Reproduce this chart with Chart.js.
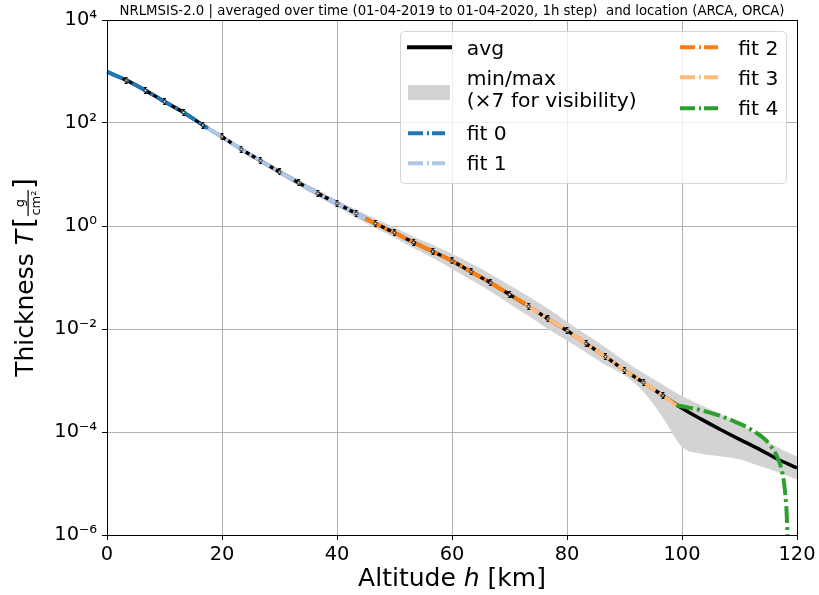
<!DOCTYPE html>
<html>
<head>
<meta charset="utf-8">
<script src="https://cdn.jsdelivr.net/npm/chart.js@4.4.1/dist/chart.umd.min.js"></script>
<style>
  body { margin: 0; background: #fff; }
  #wrap { width: 819px; height: 595px; }
</style>
</head>
<body>
<div id="wrap"><canvas id="thickness" width="819" height="595"></canvas></div>
<script>
// altitude grid (km) for the averaged profile and its min/max envelope
const altitude = [0, 3.33, 6.67, 10, 13.33, 16.67, 20, 23.33, 26.67, 30, 33.33, 36.67, 40, 43.33, 46.67, 50, 53.33, 56.67, 60, 63.33, 66.67, 70, 73.33, 76.67, 80, 83.33, 86.67, 90, 93.33, 96.67, 100, 103.33, 106.67, 110, 113.33, 116.67, 120];
const avgT = [9.8e2, 6.8e2, 4.3e2, 2.6e2, 1.6e2, 9.1e1, 5.4e1, 3.1e1, 1.86e1, 1.12e1, 6.9, 4.3, 2.75, 1.74, 1.12, 0.74, 0.48, 0.32, 0.21, 0.129, 0.079, 0.047, 0.0275, 0.0158, 9.3e-3, 5.2e-3, 2.9e-3, 1.58e-3, 9.1e-4, 5.1e-4, 2.9e-4, 1.78e-4, 1.12e-4, 7.2e-5, 4.7e-5, 2.95e-5, 2.0e-5];
const maxT = [1.02e3, 7.1e2, 4.5e2, 2.8e2, 1.7e2, 1.0e2, 5.9e1, 3.4e1, 2.1e1, 1.26e1, 7.9, 5.0, 3.2, 2.1, 1.38, 0.93, 0.62, 0.43, 0.29, 0.186, 0.117, 0.071, 0.043, 0.025, 0.0138, 7.8e-3, 4.4e-3, 2.4e-3, 1.38e-3, 8.3e-4, 5.0e-4, 3.3e-4, 2.24e-4, 1.41e-4, 8.3e-5, 5.0e-5, 3.3e-5];
const minT = [9.3e2, 6.5e2, 4.1e2, 2.45e2, 1.48e2, 8.3e1, 4.9e1, 2.8e1, 1.66e1, 1.0e1, 6.0, 3.7, 2.34, 1.45, 0.91, 0.59, 0.37, 0.24, 0.148, 0.089, 0.054, 0.031, 0.0178, 0.0100, 6.0e-3, 3.5e-3, 2.0e-3, 1.26e-3, 6.0e-4, 1.9e-4, 5.2e-5, 3.8e-5, 3.4e-5, 2.95e-5, 2.2e-5, 1.66e-5, 1.2e-5];

// piecewise fits
const fit0Alt = [0, 3.33, 6.67, 10, 13.33, 17.5];
const fit0T = [9.8e2, 6.8e2, 4.3e2, 2.6e2, 1.6e2, 7.9e1];
const fit1Alt = [17.5, 20, 23.33, 26.67, 30, 33.33, 36.67, 40, 43.33, 45];
const fit1T = [7.9e1, 5.4e1, 3.1e1, 1.86e1, 1.12e1, 6.9, 4.3, 2.75, 1.74, 1.40];
const fit2Alt = [45, 46.67, 50, 53.33, 56.67, 60, 63.33, 66.67, 70, 72.7];
const fit2T = [1.40, 1.12, 0.74, 0.48, 0.32, 0.21, 0.129, 0.079, 0.047, 0.031];
const fit3Alt = [72.7, 73.33, 76.67, 80, 83.33, 86.67, 90, 93.33, 96.67, 99];
const fit3T = [0.031, 0.0275, 0.0158, 9.3e-3, 5.2e-3, 2.9e-3, 1.58e-3, 9.1e-4, 5.1e-4, 3.3e-4];
const fit4Alt = [99, 101, 103, 105, 107, 109, 111, 113, 114.5, 115.5, 116.5, 117.2, 117.7, 118.0, 118.25, 118.4];
const fit4T = [3.3e-4, 3.0e-4, 2.7e-4, 2.35e-4, 2.0e-4, 1.62e-4, 1.29e-4, 9.5e-5, 7.1e-5, 5.2e-5, 3.4e-5, 2.1e-5, 1.12e-5, 5.6e-6, 2.0e-6, 5.0e-7];

const xTicks = [0, 20, 40, 60, 80, 100, 120];
const yTicks = [1e-6, 1e-4, 1e-2, 1e0, 1e2, 1e4];

const titleText = "NRLMSIS-2.0 | averaged over time (01-04-2019 to 01-04-2020, 1h step)  and location (ARCA, ORCA)";
const FONT = '"DejaVu Sans", sans-serif';
const fitColors = ["#1f77b4", "#aec7e8", "#ff7f0e", "#ffbb78", "#2ca02c"];
const fitDash = [17, 4, 3, 4];

const pts = (xs, ys) => xs.map((x, i) => ({ x: x, y: ys[i] }));

const SUP = { "-": "\u207B", "0": "\u2070", "1": "\u00B9", "2": "\u00B2", "3": "\u00B3", "4": "\u2074", "5": "\u2075", "6": "\u2076", "7": "\u2077", "8": "\u2078", "9": "\u2079" };
function powLabel(v) {
  const e = String(Math.round(Math.log10(v)));
  return "10" + e.split("").map(c => SUP[c]).join("");
}

// tiny open circle with error-bar caps
function makeMarker() {
  const c = document.createElement("canvas");
  c.width = 5; c.height = 7;
  const g = c.getContext("2d");
  g.strokeStyle = "#000"; g.lineWidth = 1;
  g.beginPath();
  g.moveTo(2.5, 0.5); g.lineTo(2.5, 6.5);
  g.moveTo(1, 0.5); g.lineTo(4, 0.5);
  g.moveTo(1, 6.5); g.lineTo(4, 6.5);
  g.stroke();
  g.beginPath(); g.arc(2.5, 3.5, 1.5, 0, 2 * Math.PI);
  g.fillStyle = "#fff"; g.fill(); g.stroke();
  return c;
}

function fitSet(label, xs, ys, color, clip) {
  return {
    label: label, data: pts(xs, ys), borderColor: color, borderWidth: 4,
    borderDash: fitDash, borderCapStyle: "butt", pointRadius: 0,
    cubicInterpolationMode: "monotone", fill: false, order: 1, clip: clip
  };
}

// title, frame, axis titles and legend drawn on top of the chart
const decorations = {
  id: "decorations",
  afterDraw(chart) {
    const ctx = chart.ctx, a = chart.chartArea;
    ctx.save();
    ctx.strokeStyle = "#000"; ctx.lineWidth = 1;
    ctx.strokeRect(a.left + 0.5, a.top + 0.5, a.right - a.left, a.bottom - a.top);

    ctx.fillStyle = "#000";
    ctx.font = "13.3px " + FONT;
    ctx.textAlign = "center"; ctx.textBaseline = "alphabetic";
    ctx.fillText(titleText, (a.left + a.right) / 2, 15);

    // x title
    ctx.textAlign = "left";
    const p1 = "Altitude ", p2 = "h", p3 = " [km]";
    ctx.font = "25px " + FONT; const w1 = ctx.measureText(p1).width, w3 = ctx.measureText(p3).width;
    ctx.font = "italic 25px " + FONT; const w2 = ctx.measureText(p2).width;
    let x = (a.left + a.right) / 2 - (w1 + w2 + w3) / 2;
    ctx.font = "25px " + FONT; ctx.fillText(p1, x, 586); x += w1;
    ctx.font = "italic 25px " + FONT; ctx.fillText(p2, x, 586); x += w2;
    ctx.font = "25px " + FONT; ctx.fillText(p3, x, 586);

    // y title with fraction
    ctx.save();
    ctx.translate(33, (a.top + a.bottom) / 2);
    ctx.rotate(-Math.PI / 2);
    ctx.font = "25px " + FONT; const t1 = ctx.measureText("Thickness ").width;
    ctx.font = "italic 25px " + FONT; const t2 = ctx.measureText("T").width + 2;
    ctx.font = "28px " + FONT; const tb = ctx.measureText("[").width;
    ctx.font = "13px " + FONT; const tn = ctx.measureText("g").width, td = ctx.measureText("cm\u00B2").width;
    const tf = Math.max(tn, td) + 3;
    let u = -(t1 + t2 + tb + tf + tb) / 2;
    ctx.font = "25px " + FONT; ctx.fillText("Thickness ", u, 0); u += t1;
    ctx.font = "italic 25px " + FONT; ctx.fillText("T", u, 0); u += t2;
    ctx.font = "28px " + FONT; ctx.fillText("[", u, 1); u += tb;
    ctx.fillRect(u + 1, -5.5, tf - 2, 1.2);
    ctx.font = "13px " + FONT; ctx.textAlign = "center";
    ctx.fillText("g", u + tf / 2, -9);
    ctx.fillText("cm\u00B2", u + tf / 2, 7);
    ctx.textAlign = "left"; u += tf;
    ctx.font = "28px " + FONT; ctx.fillText("]", u, 1);
    ctx.restore();

    // legend
    const lx = 400.5, ly = 31.5, lw = 386, lh = 152;
    ctx.beginPath();
    ctx.roundRect(lx, ly, lw, lh, 4);
    ctx.fillStyle = "rgba(255,255,255,0.8)"; ctx.fill();
    ctx.strokeStyle = "rgba(204,204,204,0.8)"; ctx.lineWidth = 1; ctx.stroke();

    const handle = (x0, x1, y, color, dash, width) => {
      ctx.save();
      ctx.beginPath(); ctx.setLineDash(dash); ctx.lineCap = "butt";
      ctx.strokeStyle = color; ctx.lineWidth = width;
      ctx.moveTo(x0, y); ctx.lineTo(x1, y); ctx.stroke();
      ctx.restore();
    };
    const legDash = [15, 4, 2, 3];
    ctx.fillStyle = "#000"; ctx.font = "20.3px " + FONT; ctx.textAlign = "left";
    handle(407, 452, 47.3, "#000", [], 4);
    ctx.fillText("avg", 466.7, 55);
    ctx.fillStyle = "#d3d3d3"; ctx.fillRect(408, 85, 42, 15);
    ctx.fillStyle = "#000";
    ctx.fillText("min/max", 466.7, 85);
    ctx.fillText("(\u00D77 for visibility)", 466.7, 106.5);
    handle(408, 445, 133.3, fitColors[0], legDash, 4);
    ctx.fillText("fit 0", 466.7, 140);
    handle(408, 445, 163.3, fitColors[1], legDash, 4);
    ctx.fillText("fit 1", 466.7, 170);
    handle(680, 718, 47.3, fitColors[2], legDash, 4);
    ctx.fillText("fit 2", 738.3, 55);
    handle(680, 718, 77.3, fitColors[3], legDash, 4);
    ctx.fillText("fit 3", 738.3, 85);
    handle(680, 718, 108.3, fitColors[4], legDash, 4);
    ctx.fillText("fit 4", 738.3, 115);
    ctx.restore();
  }
};

const tickFont = { family: FONT, size: 19.4 };

new Chart(document.getElementById("thickness").getContext("2d"), {
  type: "line",
  data: {
    datasets: [
      {
        label: "markers", data: pts(altitude.slice(1, 30), avgT.slice(1, 30)),
        showLine: false, pointStyle: makeMarker(), pointRadius: 3, order: 0
      },
      fitSet("fit 0", fit0Alt, fit0T, fitColors[0], 2),
      fitSet("fit 1", fit1Alt, fit1T, fitColors[1], 2),
      fitSet("fit 2", fit2Alt, fit2T, fitColors[2], 2),
      fitSet("fit 3", fit3Alt, fit3T, fitColors[3], 2),
      fitSet("fit 4", fit4Alt, fit4T, fitColors[4], 0),
      {
        label: "avg", data: pts(altitude, avgT), borderColor: "#000", borderWidth: 3.5,
        pointRadius: 0, cubicInterpolationMode: "monotone", fill: false, order: 2
      },
      {
        label: "max", data: pts(altitude, maxT), borderWidth: 0, borderColor: "rgba(0,0,0,0)",
        backgroundColor: "#d3d3d3", pointRadius: 0, cubicInterpolationMode: "monotone",
        fill: "+1", order: 3
      },
      {
        label: "min", data: pts(altitude, minT), borderWidth: 0, borderColor: "rgba(0,0,0,0)",
        pointRadius: 0, cubicInterpolationMode: "monotone", fill: false, order: 4
      }
    ]
  },
  options: {
    responsive: false,
    animation: false,
    events: [],
    layout: { padding: { top: 20, right: 22, left: 0, bottom: 0 } },
    plugins: { legend: { display: false }, tooltip: { enabled: false } },
    scales: {
      x: {
        type: "linear", min: 0, max: 120,
        afterBuildTicks: s => { s.ticks = xTicks.map(v => ({ value: v })); },
        ticks: { font: tickFont, color: "#000", padding: 3, maxRotation: 0, autoSkip: false },
        grid: { color: "#b0b0b0", lineWidth: 1, tickLength: 5, tickColor: "#000" },
        border: { color: "#000", width: 1 },
        afterFit: s => { s.height = 60; }
      },
      y: {
        type: "logarithmic", min: 1e-6, max: 1e4,
        afterBuildTicks: s => { s.ticks = yTicks.map(v => ({ value: v })); },
        ticks: { font: tickFont, color: "#000", padding: 5, autoSkip: false, callback: v => powLabel(v) },
        grid: { color: "#b0b0b0", lineWidth: 1, tickLength: 5, tickColor: "#000" },
        border: { color: "#000", width: 1 },
        afterFit: s => { s.width = 107; }
      }
    }
  },
  plugins: [decorations]
});
</script>
</body>
</html>
